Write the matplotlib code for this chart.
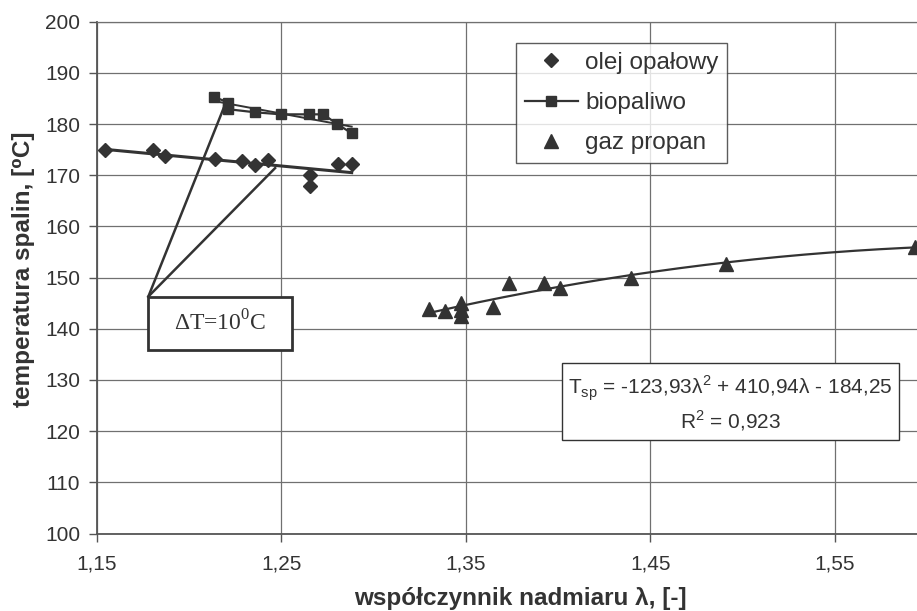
import numpy as np
import matplotlib
matplotlib.use("Agg")
import matplotlib.pyplot as plt
from matplotlib.lines import Line2D
from matplotlib.patches import Rectangle

plt.rcParams["font.family"] = ["Liberation Sans", "DejaVu Sans"]

# ---- data ----
olej_x = [1.1545, 1.1807, 1.1870, 1.2141, 1.2286, 1.2358, 1.2430, 1.2656, 1.2656, 1.2810, 1.2882]
olej_y = [174.9, 174.9, 173.8, 173.2, 172.7, 172.0, 173.0, 170.1, 167.9, 172.2, 172.2]

bio_x = [1.2137, 1.2213, 1.2213, 1.2358, 1.2499, 1.2652, 1.2728, 1.2804, 1.2882]
bio_y = [185.3, 184.2, 182.9, 182.3, 181.9, 181.9, 181.9, 180.0, 178.2]

gaz_x = [1.3303, 1.3388, 1.3474, 1.3474, 1.3474, 1.3650, 1.3736, 1.3924, 1.4011, 1.4394, 1.4909, 1.5936]
gaz_y = [143.8, 143.4, 145.1, 143.7, 142.4, 144.2, 148.9, 148.9, 148.0, 149.9, 152.6, 156.0]

# trend equation printed on the chart
gaz_coef = [-123.93, 410.94, -184.25]
gaz_r2 = "0,923"

series_labels = ["olej opałowy", "biopaliwo", "gaz propan"]
x_ticks = [1.15, 1.25, 1.35, 1.45, 1.55]
x_ticklabels = ["1,15", "1,25", "1,35", "1,45", "1,55"]
y_ticks = list(range(100, 201, 10))

# annotation geometry (data coords)
dt_label = "ΔT=10$^{\\mathregular{0}}$C"
dt_box = (1.1780, 135.9, 1.2560, 146.3)   # x0, y0, x1, y1
dt_targets = [(1.2190, 183.3), (1.2467, 171.4)]

# ---- figure ----
DARK = "#333333"
fig = plt.figure(figsize=(9.17, 6.11), dpi=100)
ax = fig.add_axes([96.7 / 917, 1 - 533.5 / 611, 830.25 / 917, 511.8 / 611])
ax.set_xlim(1.15, 1.60)
ax.set_ylim(100, 200)

ax.set_xticks(x_ticks)
ax.set_xticklabels(x_ticklabels)
ax.set_yticks(y_ticks)
ax.grid(True, color="#707070", lw=0.9)
ax.set_axisbelow(True)
ax.spines["right"].set_visible(False)
ax.spines["top"].set_color("#707070")
ax.spines["top"].set_linewidth(0.9)
for s in ["left", "bottom"]:
    ax.spines[s].set_color("#555555")
    ax.spines[s].set_linewidth(1.3)
ax.tick_params(direction="out", length=6, width=1, color="#555555",
               labelsize=15, labelcolor=DARK, pad=6)
ax.tick_params(axis="x", pad=9)

# olej opałowy
ax.plot(olej_x, olej_y, ls="none", marker="D", ms=7.4, color=DARK, zorder=4)
c1 = np.polyfit(olej_x, olej_y, 1)
xx = np.linspace(min(olej_x), max(olej_x), 50)
ax.plot(xx, np.polyval(c1, xx), color=DARK, lw=2.2, zorder=3)

# biopaliwo
ax.plot(bio_x, bio_y, ls="-", lw=1.6, marker="s", ms=7.8, color=DARK, zorder=4)
c2 = np.polyfit(bio_x, bio_y, 1)
xx = np.linspace(min(bio_x), max(bio_x), 50)
ax.plot(xx, np.polyval(c2, xx), color=DARK, lw=1.4, zorder=3)

# gaz propan
ax.plot(gaz_x, gaz_y, ls="none", marker="^", ms=9.5, color=DARK, zorder=4)
xx = np.linspace(min(gaz_x), 1.60, 200)
ax.plot(xx, np.polyval(gaz_coef, xx), color=DARK, lw=1.6, zorder=3)

ax.set_xlabel("współczynnik nadmiaru λ, [-]", fontsize=17.5, fontweight="bold",
              color=DARK)
ax.set_ylabel("temperatura spalin, [⁰C]", fontsize=17.5, fontweight="bold",
              color=DARK)
ax.xaxis.set_label_coords(0.51, -0.104)
ax.yaxis.set_label_coords(-0.074, 0.517)

# legend
handles = [
    Line2D([], [], ls="none", marker="D", ms=7.4, color=DARK),
    Line2D([], [], ls="-", lw=1.6, marker="s", ms=7.8, color=DARK),
    Line2D([], [], ls="none", marker="^", ms=9.5, color=DARK),
]
leg = fig.legend(handles, series_labels, loc="upper left",
                 bbox_to_anchor=(516 / 917, 1 - 43.3 / 611),
                 bbox_transform=fig.transFigure, fontsize=17.5,
                 frameon=True, fancybox=False, edgecolor=DARK,
                 handlelength=2.2, handletextpad=0.3, labelspacing=0.75,
                 borderpad=0.35, borderaxespad=0)
leg.get_frame().set_linewidth(1.0)
for t in leg.get_texts():
    t.set_color(DARK)

# equation box
eq_text = ("T$_{\\mathregular{sp}}$ = -123,93λ$^{\\mathregular{2}}$ + 410,94λ - 184,25\n"
           "R$^{\\mathregular{2}}$ = " + gaz_r2)
ax.text(1.4933, 125.4, eq_text, ha="center", va="center", fontsize=15,
        color=DARK, multialignment="center", linespacing=1.3, zorder=6,
        bbox=dict(boxstyle="square,pad=0.3", fc="white", ec=DARK, lw=1.0))

# ΔT annotation
x0, y0, x1, y1 = dt_box
for tx, ty in dt_targets:
    ax.plot([x0, tx], [y1, ty], color=DARK, lw=1.8, zorder=5)
ax.add_patch(Rectangle((x0, y0), x1 - x0, y1 - y0, fc="white", ec=DARK,
                       lw=2.0, zorder=6))
ax.text((x0 + x1) / 2, (y0 + y1) / 2, dt_label, ha="center", va="center",
        fontsize=17, family="Liberation Serif", color=DARK, zorder=7)

fig.savefig("out.png", dpi=100)
